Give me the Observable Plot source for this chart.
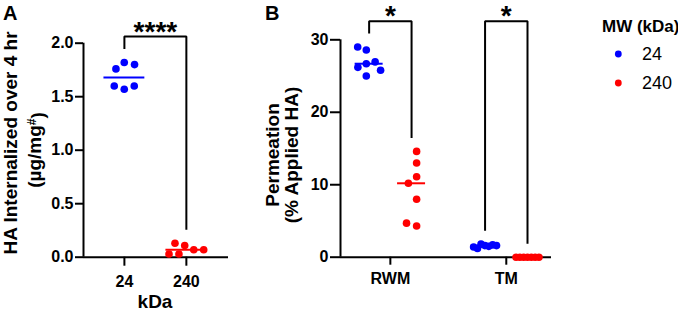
<!DOCTYPE html>
<html>
<head>
<meta charset="utf-8">
<script src="https://cdn.jsdelivr.net/npm/d3@7"></script>
<script src="https://cdn.jsdelivr.net/npm/@observablehq/plot@0.6"></script>
<style>
  html, body { margin: 0; padding: 0; background: #fff; }
  #root { position: relative; width: 678px; height: 312px; background: #fff; overflow: hidden; }
  .panel { position: absolute; top: 0; }
  svg g[aria-label^="x-axis"] line, svg g[aria-label^="y-axis"] line,
  svg g[aria-label^="x-axis"] path, svg g[aria-label^="y-axis"] path { stroke: #000; stroke-width: 2px; }
  svg g[aria-label^="x-axis"] text, svg g[aria-label^="y-axis"] text { font-size: 16px !important; font-weight: bold !important; fill: #000; }
</style>
</head>
<body>
<div id="root">
  <div id="pa" class="panel" style="left:0px;width:240px;height:312px"></div>
  <div id="pb" class="panel" style="left:245px;width:310px;height:312px"></div>
  <div id="lg" class="panel" style="left:560px;width:118px;height:120px"></div>
</div>
<script>
// ---------------- data ----------------
const mwKDa = ["24", "240"];
const mwColors = ["#0000ff", "#ff0000"];
const legendTitle = "MW (kDa)";

// Panel A: HA internalized over 4 hr (µg/mg#)
const internalized24 = [1.82, 1.76, 1.80, 1.57, 1.60, 1.60];
const internalized240 = [0.11, 0.03, 0.07, 0.13, 0.03, 0.07];
const aTicks = [0, 0.5, 1.0, 1.5, 2.0];
const aSig = "****";

// Panel B: Permeation (% applied HA)
const membranes = ["RWM", "TM"];
const permRWM24 = [28.6, 29.0, 26.7, 26.2, 26.95, 25.8, 25.0];
const permRWM240 = [14.6, 13.0, 11.1, 10.2, 8.0, 4.3, 4.7];
const permTM24 = [1.6, 1.8, 1.5, 1.2, 1.7, 1.4, 1.6];
const permTM240 = [0, 0, 0, 0, 0, 0, 0];
const bTicks = [0, 10, 20, 30];
const bSig = ["*", "*"];

// ---------------- layout ----------------
const FONT = "'Liberation Sans', Arial, Helvetica, sans-serif";
const H = 312;
const DOT_R = 3.8, MIN_D = 10.5, LEG_GAP = 13.5;

function swarm(vals, pxY, maxHalf) {
  const placed = [];
  const offs = vals.map(v => {
    const py = v * pxY;
    const cands = [0];
    for (const p of placed) {
      const dy = Math.abs(p.y - py);
      if (dy < MIN_D) {
        const dx = Math.sqrt(MIN_D * MIN_D - dy * dy);
        cands.push(p.x - dx, p.x + dx);
      }
    }
    cands.sort((a, b) => Math.abs(a) - Math.abs(b) || a - b);
    let best = 0;
    for (const c of cands) {
      if (placed.every(p => Math.hypot(p.x - c, p.y - py) >= MIN_D - 1e-6)) { best = c; break; }
    }
    placed.push({x: best, y: py});
    return best;
  });
  const mid = (d3.min(offs) + d3.max(offs)) / 2;
  const c = offs.map(o => o - mid);
  const ext = d3.max(c, Math.abs) || 0;
  const k = ext > maxHalf ? maxHalf / ext : 1;
  return c.map(o => o * k);
}

const baseStyle = {fontFamily: FONT, fontSize: "16px", fontWeight: "bold", background: "transparent", overflow: "visible", maxWidth: "none", color: "#000"};

// ---------------- Panel A ----------------
const A = {width: 240, ml: 83, mr: 12, mt: 42.7, mb: 55.3, xDom: [0.34, 2.68], yDom: [0, 2]};
const pxYA = (H - A.mt - A.mb) / (A.yDom[1] - A.yDom[0]);
const pxXA = (A.width - A.ml - A.mr) / (A.xDom[1] - A.xDom[0]);
const aGroups = [internalized24, internalized240].map((vals, i) => ({mw: mwKDa[i], center: i + 1, vals}));
const aDots = aGroups.flatMap(g => {
  const offs = swarm(g.vals, pxYA, 0.28 * pxXA);
  return g.vals.map((v, j) => ({mw: g.mw, x: g.center + offs[j] / pxXA, y: v}));
});
const aMed = aGroups.map(g => ({mw: g.mw, x1: g.center - 0.33, x2: g.center + 0.33, y: d3.median(g.vals)}));
const aTop = 2.063;
const aBracket = [
  {x: 1, y: d3.max(internalized24) + LEG_GAP / pxYA},
  {x: 1, y: aTop}, {x: 2, y: aTop},
  {x: 2, y: d3.max(internalized240) + LEG_GAP / pxYA}
];

const plotA = Plot.plot({
  width: A.width, height: H,
  marginLeft: A.ml, marginRight: A.mr, marginTop: A.mt, marginBottom: A.mb,
  style: baseStyle,
  x: {domain: A.xDom, ticks: [1, 2], tickFormat: d => mwKDa[d - 1], tickSize: 9, tickPadding: 9, label: null},
  y: {domain: A.yDom, ticks: aTicks, tickFormat: d => d.toFixed(1), tickSize: 8, tickPadding: 2, label: null},
  color: {domain: mwKDa, range: mwColors},
  marks: [
    Plot.ruleY([0], {strokeWidth: 2, stroke: "#000"}),
    Plot.ruleX([A.xDom[0]], {strokeWidth: 2, stroke: "#000"}),
    Plot.line(aBracket, {x: "x", y: "y", stroke: "#000", strokeWidth: 2, strokeLinejoin: "miter", strokeLinecap: "butt"}),
    Plot.text([{x: 1.5, y: aTop, t: aSig}], {x: "x", y: "y", text: "t", fontSize: 28, lineAnchor: "bottom", dy: 5}),
    Plot.dot(aDots, {x: "x", y: "y", fill: "mw", r: DOT_R}),
    Plot.ruleY(aMed, {y: "y", x1: "x1", x2: "x2", stroke: "mw", strokeWidth: 2})
  ]
});
document.getElementById("pa").appendChild(plotA);
{
  const s = d3.select(plotA);
  s.append("text").attr("x", 3).attr("y", 20).attr("text-anchor", "start").style("font-size", "20px").text("A");
  s.append("text").attr("transform", "translate(17,143) rotate(-90)").attr("text-anchor", "middle")
    .style("font-size", "19px").text("HA Internalized over 4 hr");
  const t2 = s.append("text").attr("transform", "translate(41,150) rotate(-90)").attr("text-anchor", "middle")
    .style("font-size", "19px");
  t2.append("tspan").text("(µg/mg");
  t2.append("tspan").attr("dy", "-0.45em").style("font-size", "12px").text("#");
  t2.append("tspan").attr("dy", "0.45em").text(")");
  s.append("text").attr("x", 155).attr("y", 308).attr("text-anchor", "middle").style("font-size", "19px").text("kDa");
}

// ---------------- Panel B ----------------
const B = {width: 310, ml: 95, mr: 4, mt: 39.3, mb: 55.3, xDom: [0.57, 2.39], yDom: [0, 30]};
const pxYB = (H - B.mt - B.mb) / (B.yDom[1] - B.yDom[0]);
const pxXB = (B.width - B.ml - B.mr) / (B.xDom[1] - B.xDom[0]);
const SUB = 0.183;
const bSeries = [[permRWM24, permRWM240], [permTM24, permTM240]];
const bGroups = bSeries.flatMap((pair, li) => pair.map((vals, mi) => ({
  loc: membranes[li], mw: mwKDa[mi], center: li + 1 + (mi === 0 ? -SUB : SUB), vals
})));
const bDots = bGroups.flatMap(g => {
  const offs = swarm(g.vals, pxYB, 0.27 * 2 * SUB * pxXB);
  return g.vals.map((v, j) => ({mw: g.mw, x: g.center + offs[j] / pxXB, y: v}));
});
const bMed = bGroups.map(g => ({mw: g.mw, x1: g.center - 0.33 * 2 * SUB, x2: g.center + 0.33 * 2 * SUB, y: d3.median(g.vals)}));
const bTop = 32.57;
const bBrackets = membranes.flatMap((loc, li) => {
  const g0 = bGroups[li * 2], g1 = bGroups[li * 2 + 1];
  return [
    {loc, x: g0.center, y: d3.max(g0.vals) + LEG_GAP / pxYB},
    {loc, x: g0.center, y: bTop}, {loc, x: g1.center, y: bTop},
    {loc, x: g1.center, y: d3.max(g1.vals) + LEG_GAP / pxYB}
  ];
});
const bStars = membranes.map((loc, li) => ({x: li + 1, y: bTop, t: bSig[li]}));

const plotB = Plot.plot({
  width: B.width, height: H,
  marginLeft: B.ml, marginRight: B.mr, marginTop: B.mt, marginBottom: B.mb,
  style: baseStyle,
  x: {domain: B.xDom, ticks: [1, 2], tickFormat: d => membranes[d - 1], tickSize: 8, tickPadding: 7, label: null},
  y: {domain: B.yDom, ticks: bTicks, tickFormat: d => String(d), tickSize: 10, tickPadding: 2, label: null},
  color: {domain: mwKDa, range: mwColors},
  marks: [
    Plot.ruleY([0], {strokeWidth: 2, stroke: "#000"}),
    Plot.ruleX([B.xDom[0]], {strokeWidth: 2, stroke: "#000"}),
    Plot.line(bBrackets, {x: "x", y: "y", z: "loc", stroke: "#000", strokeWidth: 2, strokeLinejoin: "miter", strokeLinecap: "butt"}),
    Plot.text(bStars, {x: "x", y: "y", text: "t", fontSize: 28, lineAnchor: "bottom", dy: 3.5}),
    Plot.dot(bDots, {x: "x", y: "y", fill: "mw", r: DOT_R}),
    Plot.ruleY(bMed, {y: "y", x1: "x1", x2: "x2", stroke: "mw", strokeWidth: 2})
  ]
});
document.getElementById("pb").appendChild(plotB);
{
  const s = d3.select(plotB);
  s.append("text").attr("x", 20).attr("y", 20).attr("text-anchor", "start").style("font-size", "20px").text("B");
  s.append("text").attr("transform", "translate(34,155) rotate(-90)").attr("text-anchor", "middle")
    .style("font-size", "19px").text("Permeation");
  s.append("text").attr("transform", "translate(53,155) rotate(-90)").attr("text-anchor", "middle")
    .style("font-size", "19px").text("(% Applied HA)");
}

// ---------------- Legend ----------------
{
  const s = d3.select("#lg").append("svg").attr("width", 118).attr("height", 120)
    .style("font-family", FONT);
  s.append("text").attr("x", 42).attr("y", 31.5).style("font-size", "17px").style("font-weight", "bold").text(legendTitle);
  mwKDa.forEach((k, i) => {
    const cy = 54 + i * 29;
    s.append("circle").attr("cx", 58.3).attr("cy", cy).attr("r", 3.4).attr("fill", mwColors[i]);
    s.append("text").attr("x", 82).attr("y", cy).attr("dy", "0.36em").style("font-size", "18px").text(k);
  });
}
</script>
</body>
</html>
